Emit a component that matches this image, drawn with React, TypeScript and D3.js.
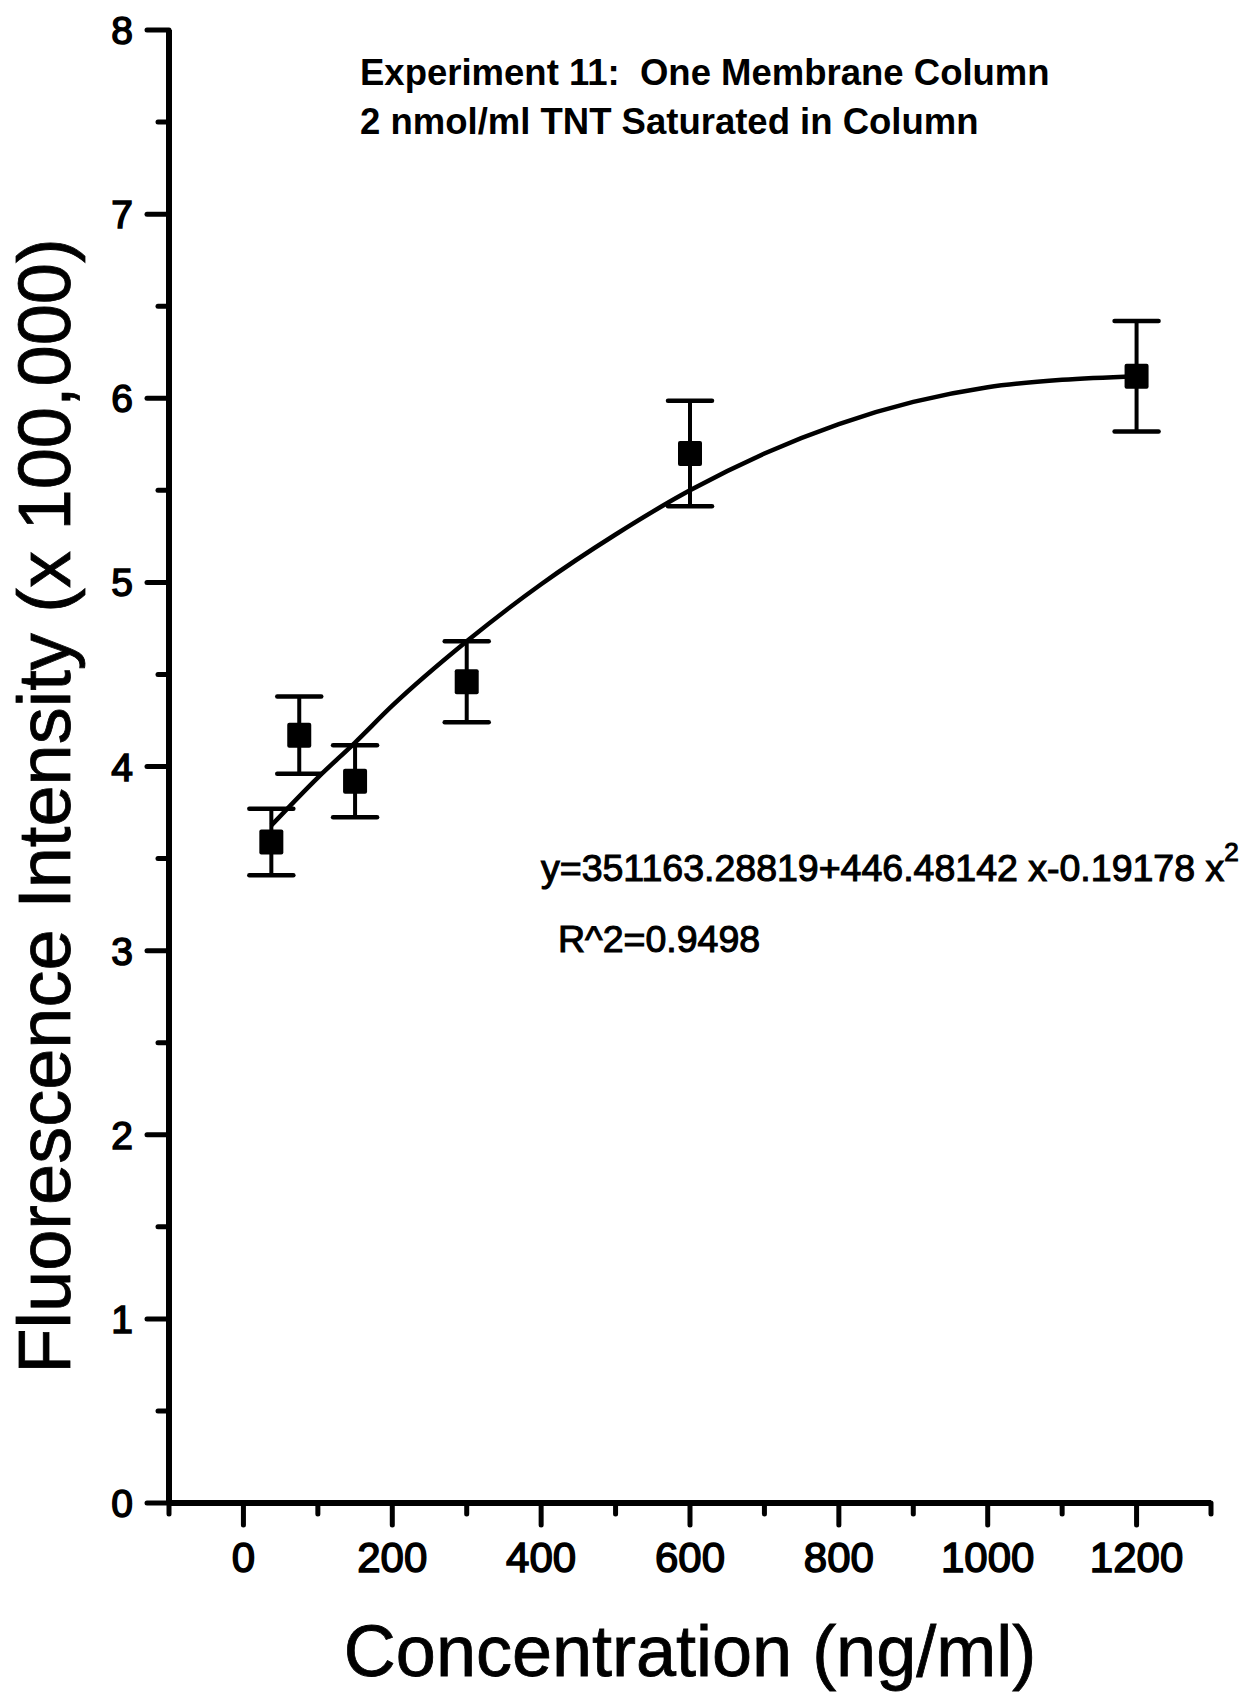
import React, { useRef, useEffect } from 'react';
import * as d3 from 'd3';

// measured points (concentration ng/ml, intensity x 100,000)
const concentrations = [37.5, 75, 150, 300, 600, 1200];
const intensities = [3.59, 4.17, 3.92, 4.46, 5.70, 6.12];
const errors = [0.18, 0.21, 0.195, 0.22, 0.287, 0.30];

// fitted curve
const fitX = [37.5, 100, 150, 200, 300, 400, 500, 600, 700, 800, 900, 1000, 1100, 1200];
const fitY = [3.68, 3.94, 4.13, 4.33, 4.68, 4.99, 5.26, 5.50, 5.70, 5.86, 5.98, 6.06, 6.10, 6.12];

const xMajorTicks = [0, 200, 400, 600, 800, 1000, 1200];
const xMinorTicks = [-100, 100, 300, 500, 700, 900, 1100, 1300];
const yMajorTicks = [0, 1, 2, 3, 4, 5, 6, 7, 8];
const yMinorTicks = [0.5, 1.5, 2.5, 3.5, 4.5, 5.5, 6.5, 7.5];

const titleLines = ['Experiment 11:  One Membrane Column', '2 nmol/ml TNT Saturated in Column'];
const equationText = 'y=351163.28819+446.48142 x-0.19178 x';
const r2Text = 'R^2=0.9498';

const FONT = "'Liberation Sans', Arial, Helvetica, sans-serif";

const App = () => {
    const svgRef = useRef<SVGSVGElement>(null);

    useEffect(() => {
        const svg = d3.select(svgRef.current);
        svg.selectAll('*').remove();

        const x = d3.scaleLinear().domain([-100, 1300]).range([169, 1211]);
        const y = d3.scaleLinear().domain([0, 8]).range([1503, 30]);

        const g = svg.append('g').attr('font-family', FONT).attr('fill', '#000');

        // axes lines
        g.append('line')
            .attr('x1', x(-100)).attr('x2', x(-100))
            .attr('y1', y(8)).attr('y2', y(0))
            .attr('stroke', '#000').attr('stroke-width', 6);
        g.append('line')
            .attr('x1', x(-100)).attr('x2', x(1300))
            .attr('y1', y(0)).attr('y2', y(0))
            .attr('stroke', '#000').attr('stroke-width', 6);

        // y ticks
        g.selectAll('.ymaj').data(yMajorTicks).join('line')
            .attr('x1', x(-100) - 22).attr('x2', x(-100))
            .attr('y1', d => y(d)).attr('y2', d => y(d))
            .attr('stroke', '#000').attr('stroke-width', 5).attr('stroke-linecap', 'round');
        g.selectAll('.ymin').data(yMinorTicks).join('line')
            .attr('x1', x(-100) - 11).attr('x2', x(-100))
            .attr('y1', d => y(d)).attr('y2', d => y(d))
            .attr('stroke', '#000').attr('stroke-width', 5).attr('stroke-linecap', 'round');
        g.selectAll('.ylab').data(yMajorTicks).join('text')
            .attr('x', 133).attr('y', d => y(d)).attr('dy', '0.36em')
            .attr('text-anchor', 'end').attr('font-size', 39)
            .attr('stroke', '#000').attr('stroke-width', 1.5)
            .text(d => d);

        // x ticks
        g.selectAll('.xmaj').data(xMajorTicks).join('line')
            .attr('x1', d => x(d)).attr('x2', d => x(d))
            .attr('y1', y(0)).attr('y2', y(0) + 22)
            .attr('stroke', '#000').attr('stroke-width', 5).attr('stroke-linecap', 'round');
        g.selectAll('.xmin').data(xMinorTicks).join('line')
            .attr('x1', d => x(d)).attr('x2', d => x(d))
            .attr('y1', y(0)).attr('y2', y(0) + 11)
            .attr('stroke', '#000').attr('stroke-width', 5).attr('stroke-linecap', 'round');
        g.selectAll('.xlab').data(xMajorTicks).join('text')
            .attr('x', d => x(d)).attr('y', 1572)
            .attr('text-anchor', 'middle').attr('font-size', 42)
            .attr('stroke', '#000').attr('stroke-width', 1.5)
            .text(d => d);

        // axis titles
        g.append('text')
            .attr('transform', `translate(70, 806) rotate(-90)`)
            .attr('text-anchor', 'middle').attr('font-size', 74)
            .attr('stroke', '#000').attr('stroke-width', 0.8)
            .text('Fluorescence Intensity (x 100,000)');
        g.append('text')
            .attr('x', 690).attr('y', 1676)
            .attr('text-anchor', 'middle').attr('font-size', 72)
            .attr('stroke', '#000').attr('stroke-width', 0.8)
            .text('Concentration (ng/ml)');

        // fitted curve
        const fitData = fitX.map((v, i) => [v, fitY[i]] as [number, number]);
        g.append('path')
            .datum(fitData)
            .attr('d', d3.line<[number, number]>().x(d => x(d[0])).y(d => y(d[1])).curve(d3.curveMonotoneX))
            .attr('fill', 'none').attr('stroke', '#000').attr('stroke-width', 4.5);

        // error bars and squares
        const pts = concentrations.map((c, i) => ({ c, v: intensities[i], e: errors[i] }));
        const capW = 22;
        const eb = g.selectAll('.eb').data(pts).join('g');
        eb.append('line')
            .attr('x1', d => x(d.c)).attr('x2', d => x(d.c))
            .attr('y1', d => y(d.v + d.e)).attr('y2', d => y(d.v - d.e))
            .attr('stroke', '#000').attr('stroke-width', 4);
        eb.append('line')
            .attr('x1', d => x(d.c) - capW).attr('x2', d => x(d.c) + capW)
            .attr('y1', d => y(d.v + d.e)).attr('y2', d => y(d.v + d.e))
            .attr('stroke', '#000').attr('stroke-width', 4.5).attr('stroke-linecap', 'round');
        eb.append('line')
            .attr('x1', d => x(d.c) - capW).attr('x2', d => x(d.c) + capW)
            .attr('y1', d => y(d.v - d.e)).attr('y2', d => y(d.v - d.e))
            .attr('stroke', '#000').attr('stroke-width', 4.5).attr('stroke-linecap', 'round');
        eb.append('rect')
            .attr('x', d => x(d.c) - 12).attr('y', d => y(d.v) - 12.5)
            .attr('width', 24).attr('height', 25).attr('rx', 2)
            .attr('fill', '#000');

        // title
        g.selectAll('.title').data(titleLines).join('text')
            .attr('x', 360).attr('y', (d, i) => 85 + i * 49)
            .attr('font-size', 36.5).attr('font-weight', 'bold')
            .style('white-space', 'pre')
            .text(d => d);

        // regression annotation
        const eq = g.append('text')
            .attr('x', 541).attr('y', 881)
            .attr('font-size', 37.5)
            .attr('stroke', '#000').attr('stroke-width', 1.1);
        eq.append('tspan').text(equationText);
        eq.append('tspan').attr('font-size', 26).attr('dy', -20).text('2');
        g.append('text')
            .attr('x', 558).attr('y', 952)
            .attr('font-size', 37.5)
            .attr('stroke', '#000').attr('stroke-width', 1.1)
            .text(r2Text);
    }, []);

    return (
        <svg ref={svgRef} width={1260} height={1696}
            style={{ position: 'absolute', left: 0, top: 0, display: 'block', background: '#fff' }} />
    );
};

export default App;
